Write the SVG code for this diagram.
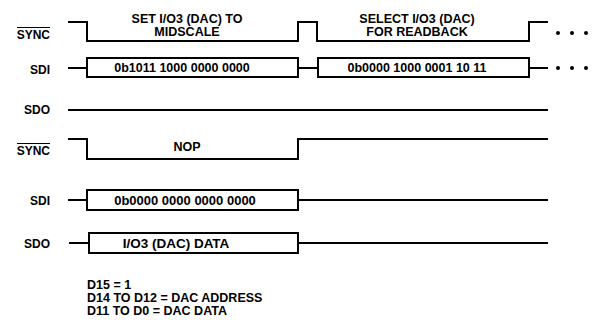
<svg xmlns="http://www.w3.org/2000/svg" width="595" height="322" viewBox="0 0 595 322">
<style>
.w{fill:none;stroke:#000;stroke-width:2}
.b{fill:#fff;stroke:#000;stroke-width:2}
text{font-family:"Liberation Sans",Arial,sans-serif;font-weight:bold;font-size:12.5px;fill:#000}
.l{text-anchor:end;font-size:12px}
.c{text-anchor:middle}
.ov{stroke:#000;stroke-width:1}
</style>
<rect width="595" height="322" fill="#fff"/>
<g id="labels">
<text class="l" x="50" y="39">SYNC</text>
<line class="ov" x1="17" y1="27.5" x2="50" y2="27.5"/>
<text class="l" x="50" y="74">SDI</text>
<text class="l" x="50" y="114">SDO</text>
<text class="l" x="50" y="155">SYNC</text>
<line class="ov" x1="17" y1="143.5" x2="50" y2="143.5"/>
<text class="l" x="50" y="205">SDI</text>
<text class="l" x="50" y="248">SDO</text>
</g>
<g id="connectors">
<path class="w" d="M68,22 H87 V41 H298 V22 H317 V41 H529 V22 H548"/>
<line class="w" x1="68" y1="68" x2="87" y2="68"/>
<line class="w" x1="298" y1="68" x2="318" y2="68"/>
<line class="w" x1="529" y1="68" x2="548" y2="68"/>
<line class="w" x1="68" y1="110" x2="548" y2="110"/>
<path class="w" d="M68,139 H87 V159 H298 V139 H548"/>
<line class="w" x1="68" y1="200" x2="87" y2="200"/>
<line class="w" x1="298" y1="200" x2="548" y2="200"/>
<line class="w" x1="69" y1="243" x2="89" y2="243"/>
<line class="w" x1="298" y1="243" x2="548" y2="243"/>
</g>
<g id="dots">
<circle cx="558" cy="33" r="2"/><circle cx="572" cy="33" r="2"/><circle cx="586" cy="33" r="2"/>
<circle cx="558" cy="68" r="2"/><circle cx="572" cy="68" r="2"/><circle cx="586" cy="68" r="2"/>
</g>
<g id="sdi1a"><rect class="b" x="87" y="58" width="211" height="19"/><text class="c" x="182" y="72">0b1011 1000 0000 0000</text></g>
<g id="sdi1b"><rect class="b" x="318" y="58" width="211" height="19"/><text class="c" x="417" y="72">0b0000 1000 0001 10 11</text></g>
<g id="title1"><text class="c" x="187" y="22.5">SET I/O3 (DAC) TO</text><text class="c" x="187" y="36">MIDSCALE</text></g>
<g id="title2"><text class="c" x="417" y="22.5">SELECT I/O3 (DAC)</text><text class="c" x="417" y="36">FOR READBACK</text></g>
<g id="nop"><text class="c" x="187" y="151">NOP</text></g>
<g id="sdi2"><rect class="b" x="87" y="190" width="211" height="20"/><text class="c" x="185" y="204.5" style="font-size:13px">0b0000 0000 0000 0000</text></g>
<g id="sdo2"><rect class="b" x="89" y="233" width="209" height="20"/><text class="c" x="176" y="247.5" style="font-size:13.5px">I/O3 (DAC) DATA</text></g>
<g id="notes">
<text x="87" y="289">D15 = 1</text>
<text x="87" y="302">D14 TO D12 = DAC ADDRESS</text>
<text x="87" y="315">D11 TO D0 = DAC DATA</text>
</g>
</svg>
